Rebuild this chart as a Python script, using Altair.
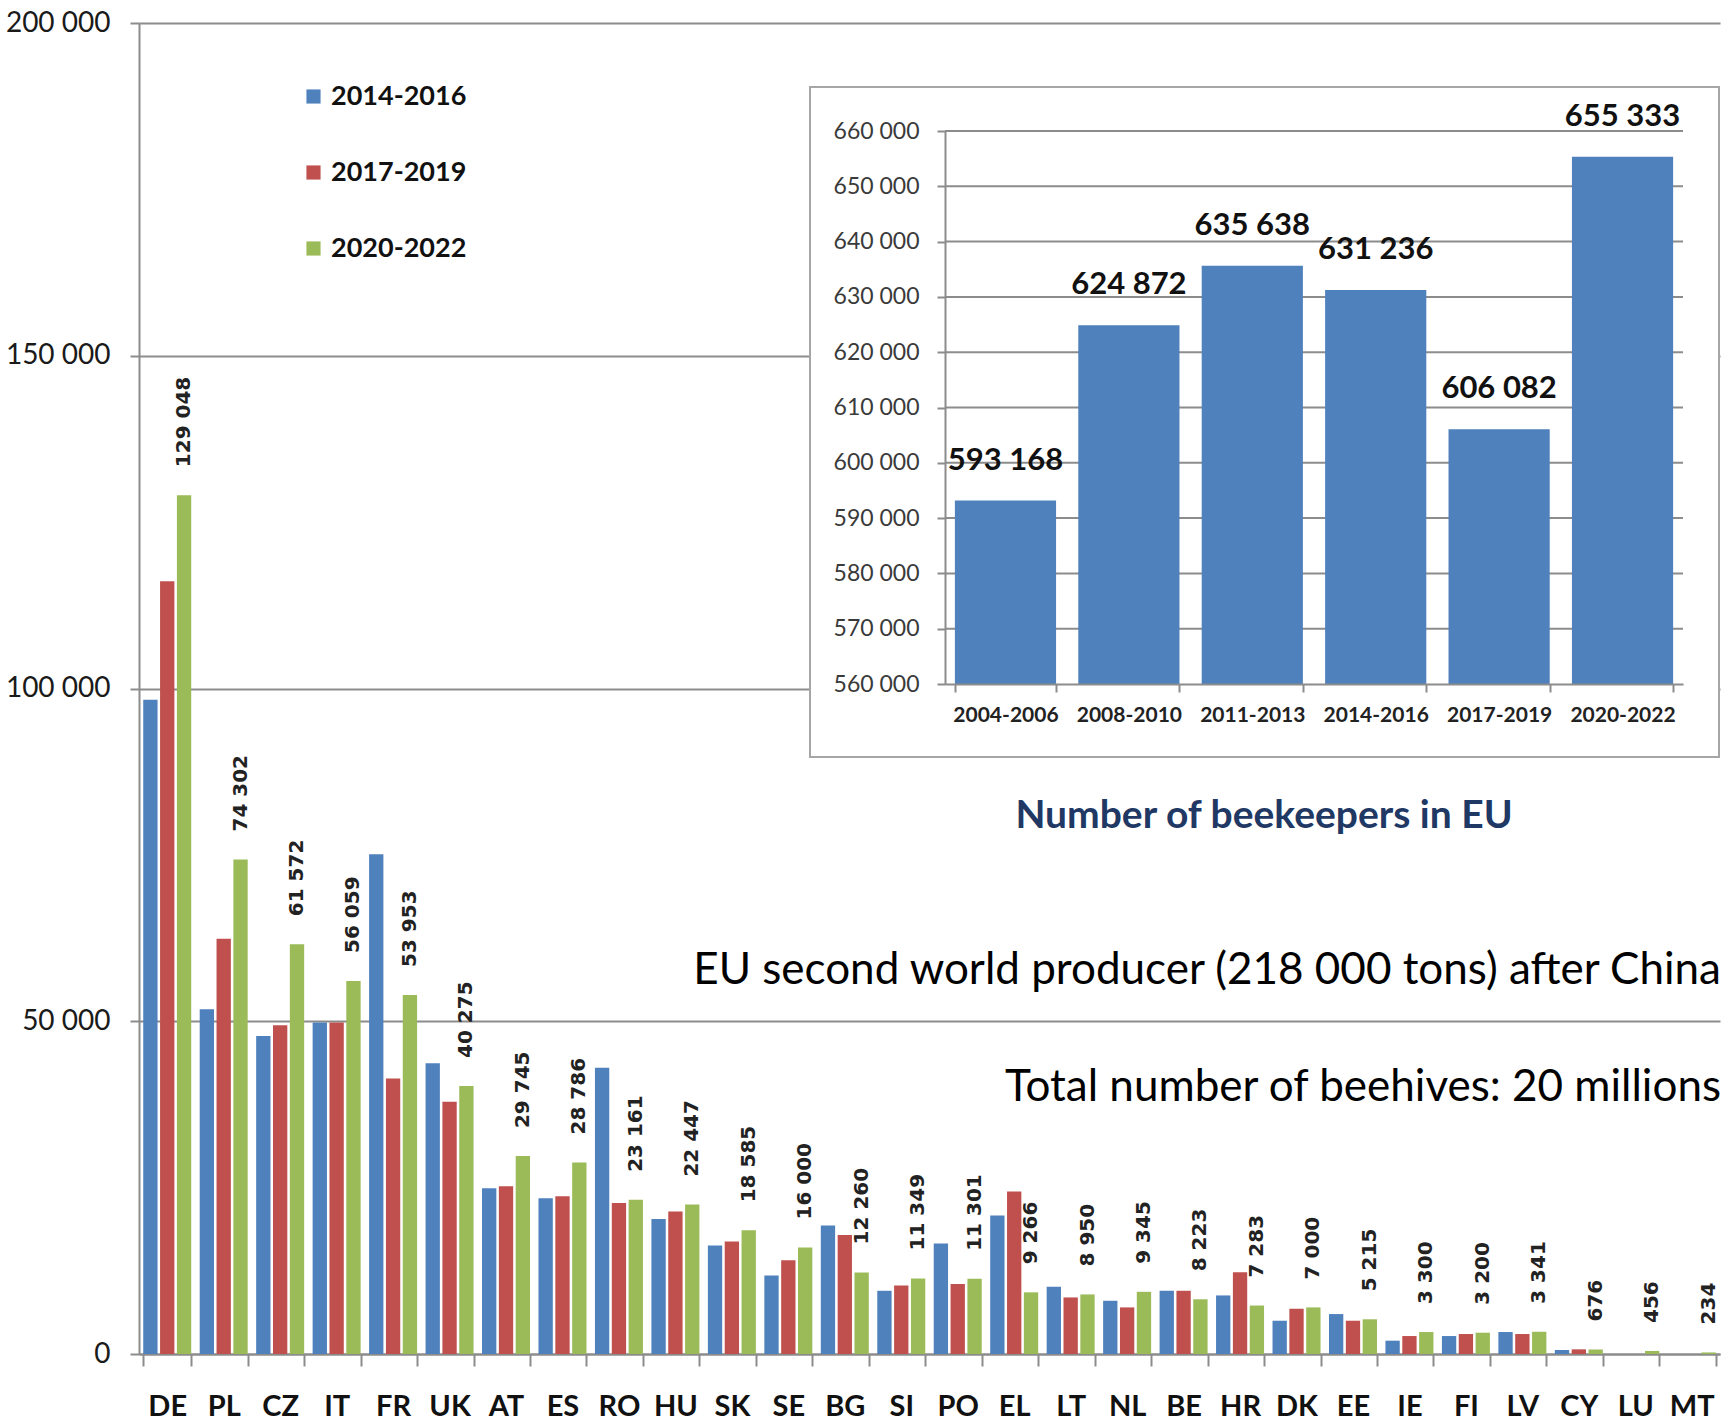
import altair as alt
import pandas as pd

# ---------------- data ----------------
countries = ["DE", "PL", "CZ", "IT", "FR", "UK", "AT", "ES", "RO", "HU", "SK", "SE", "BG", "SI",
             "PO", "EL", "LT", "NL", "BE", "HR", "DK", "EE", "IE", "FI", "LV", "CY", "LU", "MT"]
periods = ["2014-2016", "2017-2019", "2020-2022"]
v_2014_2016 = [98300, 51800, 47800, 49800, 75100, 43700, 24900, 23400, 43000, 20300, 16300, 11800,
               19300, 9500, 16600, 20800, 10100, 8000, 9500, 8800, 5000, 6000, 2000, 2700, 3300,
               600, 0, 0]
v_2017_2019 = [116100, 62400, 49400, 49800, 41400, 37900, 25200, 23700, 22700, 21400, 16900, 14100,
               17900, 10300, 10500, 24400, 8500, 7000, 9500, 12300, 6800, 5000, 2700, 3000, 3000,
               700, 0, 0]
v_2020_2022 = [129048, 74302, 61572, 56059, 53953, 40275, 29745, 28786, 23161, 22447, 18585, 16000,
               12260, 11349, 11301, 9266, 8950, 9345, 8223, 7283, 7000, 5215, 3300, 3200, 3341,
               676, 456, 234]
period_colors = ["#4F81BD", "#C0504D", "#9BBB59"]

bk_periods = ["2004-2006", "2008-2010", "2011-2013", "2014-2016", "2017-2019", "2020-2022"]
bk_values = [593168, 624872, 635638, 631236, 606082, 655333]
bk_ticks = [560000, 570000, 580000, 590000, 600000, 610000, 620000, 630000, 640000, 650000, 660000]

main_ticks = [0, 50000, 100000, 150000, 200000]

inset_title = "Number of beekeepers in EU"
note_1 = "EU second world producer (218 000 tons) after China"
note_2 = "Total number of beehives: 20 millions"


def spaced(v):
    return f"{v:,}".replace(",", " ")


rows = []
for p, vals in zip(periods, [v_2014_2016, v_2017_2019, v_2020_2022]):
    for c, v in zip(countries, vals):
        rows.append({"country": c, "period": p, "value": v})
bars_df = pd.DataFrame(rows)
labels_df = pd.DataFrame({"country": countries, "period": "2020-2022",
                          "value": v_2020_2022, "label": [spaced(v) for v in v_2020_2022]})
bk_df = pd.DataFrame({"period": bk_periods, "value": bk_values,
                      "label": [spaced(v) for v in bk_values]})
grid_df = pd.DataFrame({"v": bk_ticks[1:]})
one = pd.DataFrame({"a": [1]})

# ---------------- geometry (plot-area pixels) ----------------
W, H = 1581, 1331
GRID = "#8c8c8c"
SPACE_EXPR = "replace(format(datum.value, ','), ',', ' ')"

# ---------------- main chart ----------------
x_main = alt.X("country:N", sort=countries,
               scale=alt.Scale(paddingInner=0.15, paddingOuter=0.075),
               axis=alt.Axis(title=None, labelAngle=0, labelFont="Lato", labelFontWeight="bold",
                             labelFontSize=29, labelColor="#111111", labelPadding=26,
                             tickBand="extent", tickSize=12, tickColor=GRID, tickWidth=2,
                             domainColor=GRID, domainWidth=2, grid=False))
xo_main = alt.XOffset("period:N", sort=periods,
                      scale=alt.Scale(paddingInner=0.15, paddingOuter=0))
y_main = alt.Y("value:Q", scale=alt.Scale(domain=[0, 200000], nice=False),
               axis=alt.Axis(title=None, values=main_ticks, labelExpr=SPACE_EXPR,
                             labelFont="Lato", labelFontSize=28, labelColor="#1a1a1a",
                             labelPadding=20, tickSize=9, tickColor=GRID, tickWidth=2,
                             domainColor=GRID, domainWidth=2, grid=True, gridColor=GRID,
                             gridWidth=2))

main_bars = alt.Chart(bars_df).mark_bar().encode(
    x=x_main, xOffset=xo_main, y=y_main,
    color=alt.Color("period:N", sort=periods,
                    scale=alt.Scale(domain=periods, range=period_colors),
                    legend=alt.Legend(title=None, orient="none", legendX=161, legendY=60,
                                      direction="vertical", symbolType="square",
                                      symbolSize=200, symbolStrokeWidth=0, labelFont="Lato",
                                      labelFontWeight="bold", labelFontSize=27,
                                      labelColor="#111111", rowPadding=48, labelOffset=4,
                                      padding=0))
)
main_labels = alt.Chart(labels_df).mark_text(
    angle=270, align="left", baseline="middle", dx=28,
    font="DejaVu Sans", fontWeight="bold", fontSize=20, color="#222222"
).encode(x=x_main, xOffset=xo_main, y=y_main, text="label:N")

main = alt.layer(main_bars, main_labels)

# ---------------- inset ----------------
frame = alt.Chart(one).mark_rect(fill="white", stroke="#a6a6a6", strokeWidth=2).encode(
    x=alt.value(671), x2=alt.value(1580), y=alt.value(64), y2=alt.value(734)
)

x_in = alt.X("period:N", sort=bk_periods,
             scale=alt.Scale(range=[806, 1544], paddingInner=0.18, paddingOuter=0.08),
             axis=alt.Axis(orient="bottom", offset=-670, zindex=1, title=None, labelAngle=0,
                           labelFont="Lato", labelFontWeight="bold", labelFontSize=21,
                           labelColor="#222222", labelPadding=12, tickBand="extent",
                           tickSize=8, tickColor=GRID, tickWidth=2, domainColor=GRID,
                           domainWidth=2, grid=False))
y_in = alt.Y("value:Q",
             scale=alt.Scale(domain=[560000, 660000], range=[661, 108], nice=False, zero=False),
             axis=alt.Axis(orient="left", offset=-806, zindex=1, title=None, values=bk_ticks,
                           labelExpr=SPACE_EXPR, labelFont="Lato", labelFontSize=23,
                           labelColor="#3a3a3a", labelPadding=18, tickSize=8, tickColor=GRID,
                           tickWidth=2, domainColor=GRID, domainWidth=2, grid=False))
y_in_grid = alt.Y("v:Q",
                  scale=alt.Scale(domain=[560000, 660000], range=[661, 108], nice=False,
                                  zero=False),
                  axis=alt.Axis(orient="left", offset=-806, zindex=1, title=None,
                                values=bk_ticks, labelExpr=SPACE_EXPR, labelFont="Lato",
                                labelFontSize=23, labelColor="#3a3a3a", labelPadding=18,
                                tickSize=8, tickColor=GRID, tickWidth=2, domainColor=GRID,
                                domainWidth=2, grid=False))

inset_grid = alt.Chart(grid_df).mark_rule(color=GRID, strokeWidth=2).encode(
    y=y_in_grid, x=alt.value(806), x2=alt.value(1544)
)
inset_bars = alt.Chart(bk_df).mark_bar(color="#4F81BD").encode(
    x=x_in, y=y_in, y2=alt.datum(560000)
)
inset_labels = alt.Chart(bk_df).mark_text(
    baseline="bottom", dy=-24, font="Lato", fontWeight="bold", fontSize=31, color="#111111"
).encode(x=x_in, y=y_in, text="label:N")

inset = alt.layer(inset_grid, inset_bars, inset_labels)

# ---------------- annotations ----------------
title_txt = alt.Chart(pd.DataFrame({"t": [inset_title]})).mark_text(
    align="center", baseline="middle", font="Lato", fontWeight="bold", fontSize=39,
    color="#1F3864"
).encode(x=alt.value(1125), y=alt.value(793), text="t:N")
note1_txt = alt.Chart(pd.DataFrame({"t": [note_1]})).mark_text(
    align="right", baseline="middle", font="Lato", fontSize=44, color="#000000"
).encode(x=alt.value(1582), y=alt.value(948), text="t:N")
note2_txt = alt.Chart(pd.DataFrame({"t": [note_2]})).mark_text(
    align="right", baseline="middle", font="Lato", fontSize=44, color="#000000"
).encode(x=alt.value(1582), y=alt.value(1065), text="t:N")

chart = alt.layer(main, frame, inset, title_txt, note1_txt, note2_txt).resolve_scale(
    x="independent", y="independent"
).properties(
    width=W, height=H,
    autosize=alt.AutoSizeParams(type="none"),
    padding={"left": 139, "top": 23, "right": 10, "bottom": 68},
    background="white",
).configure_view(stroke=None)

chart.save("out.html", embed_options={"renderer": "svg", "actions": False})
